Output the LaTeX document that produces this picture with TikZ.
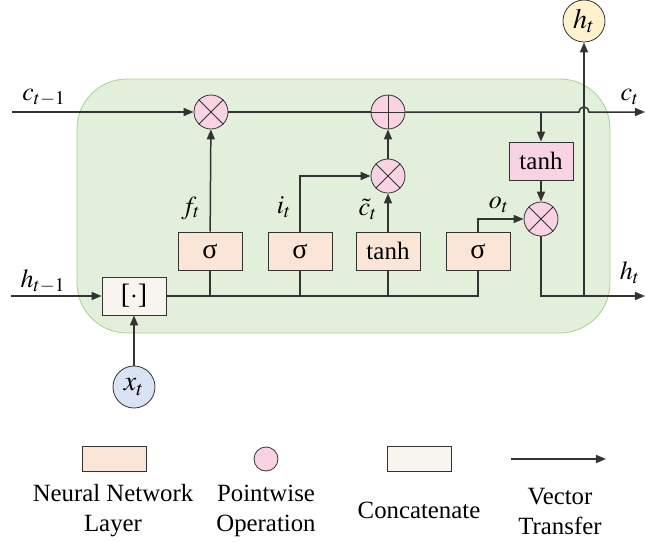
\documentclass[tikz,border=0pt]{standalone}
\usepackage{mathptmx}
\usepackage[no-math]{fontspec}
\setmainfont{Liberation Serif}
\newfontfamily\textserif{Liberation Serif}
\usetikzlibrary{arrows.meta,positioning,calc}

\definecolor{cellfill}{HTML}{E2EFDA}
\definecolor{celledge}{HTML}{A9D18E}
\definecolor{layerfill}{HTML}{FBE5D6}
\definecolor{opfill}{HTML}{FAD3E3}
\definecolor{catfill}{HTML}{F8F5F1}
\definecolor{outfill}{HTML}{FFF2CC}
\definecolor{infill}{HTML}{DAE3F3}

\begin{document}
\begin{tikzpicture}
  [ x=0.5pt, y=-0.5pt,
    layer/.style={
      rectangle,
      draw=black!80,
      fill=layerfill,
      minimum width=32pt,
      minimum height=19pt,
      inner sep=0pt,
      font=\textserif\fontsize{14}{16}\selectfont},
    pointwise/.style={
      circle,
      draw=black!80,
      fill=opfill,
      minimum size=17pt,
      inner sep=0pt},
    state/.style={
      circle,
      draw=black!80,
      minimum size=21pt,
      inner sep=0pt,
      font=\fontsize{14}{16}\selectfont},
    varname/.style={font=\fontsize{13}{15}\selectfont, inner sep=0pt},
    legendtext/.style={font=\textserif\fontsize{12.4}{15}\selectfont, align=center},
    wire/.style={draw=black!80, line width=0.75pt},
    flow/.style={wire, -{Triangle[length=5pt,width=4pt]}},
  ]

  \useasboundingbox (0,0) rectangle (645,542);

  % cell body
  \draw[celledge, fill=cellfill, rounded corners=25pt] (77,79) rectangle (610,333);

  % pointwise operations
  \node (mulf) [pointwise] at (211,112) {};
  \node (addc) [pointwise] at (388,112) {};
  \node (muli) [pointwise] at (388,176) {};
  \node (mulo) [pointwise] at (541,219) {};
  \foreach \op in {mulf,muli,mulo} {
    \draw[black!80] (\op.north east) -- (\op.south west)
                    (\op.north west) -- (\op.south east);
  }
  \draw[black!80] (addc.north) -- (addc.south) (addc.west) -- (addc.east);

  % gate layers
  \node (sigf) [layer] at (210,251) {σ};
  \node (sigi) [layer] at (300,251) {σ};
  \node (tanhl) [layer, font=\textserif\fontsize{12.5}{14}\selectfont] at (388,251) {tanh};
  \node (sigo) [layer] at (478,251) {σ};
  \node (tanhc) [layer, fill=opfill, font=\textserif\fontsize{12.5}{14}\selectfont] at (541,161) {tanh};
  \node (concat) [layer, fill=catfill] at (134,296) {[$\cdot$]};

  % inputs and output
  \node (xt) [state, fill=infill] at (134,387) {$x_t$};
  \node (htop) [state, fill=outfill] at (584,21) {$h_t$};

  \coordinate (cin) at (12,112);
  \coordinate (cout) at (645,112);
  \coordinate (hin) at (11,296);
  \coordinate (hout) at (645,296);
  \coordinate (hop) at (584,112);

  % cell state
  \draw[flow] (cin) -- (mulf);
  \draw[wire] (mulf) -- (addc);
  \draw[flow] (addc) -- ($(hop)+(-5,0)$) arc (180:360:5) -- (cout);
  \draw[flow] (tanhc |- addc) -- (tanhc);
  \draw[flow] (tanhc) -- (mulo);

  % hidden state
  \draw[flow] (hin) -- (concat);
  \draw[flow] (xt) -- (concat);
  \draw[wire] (concat) -| (sigo);
  \foreach \g in {sigf,sigi,tanhl} {
    \draw[wire] (\g.south) -- (\g |- concat);
  }
  \draw[flow] (sigf) -- (mulf);
  \draw[flow] (sigi) |- (muli);
  \draw[flow] (tanhl) -- (muli);
  \draw[flow] (muli) -- (addc);
  \draw[flow] (sigo) |- (mulo);
  \draw[flow] (mulo) |- (hout);
  \draw[flow] (hop |- hout) -- (htop);

  % variable names
  \node [varname] at (44,98) {$c_{t-1}$};
  \node [varname] at (43,281) {$h_{t-1}$};
  \node [varname] at (191,208) {$f_t$};
  \node [varname] at (284,207) {$i_t$};
  \node [varname] at (368,209) {$\tilde{c}_t$};
  \node [varname] at (499,205) {$o_t$};
  \node [varname] at (630,97) {$c_t$};
  \node [varname] at (630,273) {$h_t$};

  % legend
  \node (keylayer) [layer, minimum width=32pt, minimum height=12.5pt] at (114,459) {};
  \node (keyop) [pointwise, minimum size=12pt] at (266,459) {};
  \node (keycat) [layer, fill=catfill, minimum width=32pt, minimum height=12.5pt] at (419,459) {};
  \coordinate (keyfrom) at (511,459);
  \coordinate (keyto) at (606,459);
  \draw[flow] (keyfrom) -- (keyto);

  \node [legendtext] at (113,511) {Neural Network\\Layer};
  \node [legendtext] at (266,511) {Pointwise\\Operation};
  \node [legendtext] at (419,510) {Concatenate};
  \node [legendtext] at (560,511) {Vector\\Transfer};
\end{tikzpicture}
\end{document}
